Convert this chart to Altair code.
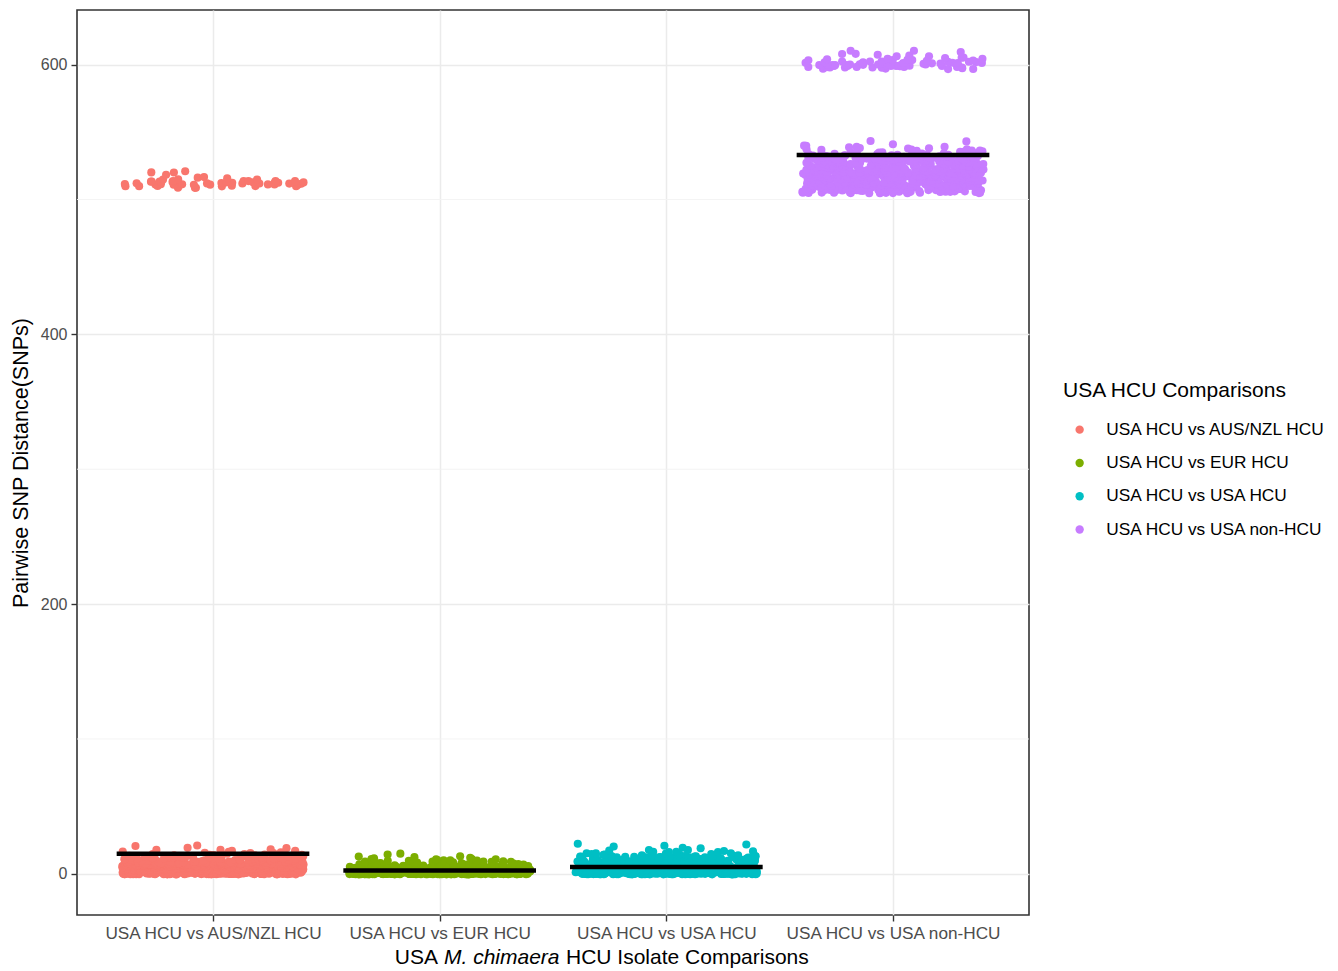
import json
import altair as alt
import pandas as pd

# ---------------- data ----------------
categories = [
    "USA HCU vs AUS/NZL HCU",
    "USA HCU vs EUR HCU",
    "USA HCU vs USA HCU",
    "USA HCU vs USA non-HCU",
]
colors = ["#F8766D", "#7CAE00", "#00BFC4", "#C77CFF"]

# SNP distance values and how many pairwise comparisons sit at each value
aus_distances = [0, 1, 2, 3, 4, 5, 6, 7, 8, 9, 10, 11, 12, 13, 14, 15, 16, 17, 18, 19, 21,
                 509, 510, 511, 512, 513, 514, 515, 516, 517, 518, 520, 521]
aus_pairs = [80, 80, 80, 80, 80, 80, 80, 75, 60, 30, 20, 15, 12, 10, 8, 6, 4, 3, 3, 2, 2,
             3, 8, 12, 10, 8, 5, 3, 2, 1, 1, 2, 1]

eur_distances = [0, 1, 2, 3, 4, 5, 6, 7, 8, 9, 10, 11, 12, 13, 14, 15]
eur_pairs = [120, 110, 90, 70, 50, 40, 25, 15, 12, 8, 6, 4, 3, 2, 1, 1]

usa_distances = [0, 1, 2, 3, 4, 5, 6, 7, 8, 9, 10, 11, 12, 13, 14, 15, 16, 17, 18, 19, 20, 21, 22]
usa_pairs = [90, 85, 80, 70, 60, 55, 45, 40, 35, 30, 25, 20, 18, 15, 10, 6, 4, 3, 2, 2, 1, 1, 2]

nonhcu_distances = [505, 506, 507, 508, 509, 510, 511, 512, 513, 514, 515, 516, 517, 518, 519,
                    520, 521, 522, 523, 524, 525, 526, 527, 528, 529, 530, 531, 532, 533, 534,
                    535, 536, 537, 538, 539, 540, 541, 543,
                    597, 598, 599, 600, 601, 602, 603, 604, 605, 606, 607, 608, 609, 610]
nonhcu_pairs = [15, 20, 25, 25, 20, 20, 20, 20, 20, 25, 25, 25, 25, 25, 25,
                25, 20, 20, 20, 18, 18, 15, 15, 15, 15, 15, 12, 12, 10, 8,
                6, 5, 4, 3, 3, 2, 1, 2,
                5, 10, 12, 12, 10, 8, 5, 4, 3, 2, 2, 2, 1, 2]

group_means = [15, 2.5, 5, 533]

y_ticks = [0, 200, 400, 600]
y_minor = [100, 300, 500]

# ---------------- tables ----------------
rows = []
for idx, (d_list, n_list) in enumerate([
    (aus_distances, aus_pairs),
    (eur_distances, eur_pairs),
    (usa_distances, usa_pairs),
    (nonhcu_distances, nonhcu_pairs),
]):
    for d, n in zip(d_list, n_list):
        for _ in range(n):
            rows.append({"comparison": categories[idx], "pos": idx + 1, "distance": d})
df = pd.DataFrame(rows)

means_df = pd.DataFrame({
    "comparison": categories,
    "pos": [i + 1 for i in range(len(categories))],
    "mean": group_means,
})
means_df["lo"] = means_df["pos"] - 0.425
means_df["hi"] = means_df["pos"] + 0.425

minor_df = pd.DataFrame({"y": y_minor})

FONT = "Liberation Sans"
W, H = 952, 905

xscale = alt.Scale(domain=[0.4, 4.6], nice=False, zero=False)
yscale = alt.Scale(domain=[-30.5, 640.5], nice=False, zero=False)

label_expr = json.dumps(categories) + "[datum.value - 1]"

xaxis = alt.Axis(
    values=[1, 2, 3, 4], labelExpr=label_expr, title=None,
    grid=True, gridColor="#EBEBEB", gridWidth=1.5,
    domain=False, ticks=True, tickColor="#333333", tickSize=6, tickWidth=1.4,
    labelFont=FONT, labelFontSize=17.2, labelColor="#4D4D4D", labelPadding=3,
    labelLimit=0,
)
yaxis = alt.Axis(
    values=y_ticks, title="Pairwise SNP Distance(SNPs)",
    grid=True, gridColor="#EBEBEB", gridWidth=1.5,
    domain=False, ticks=True, tickColor="#333333", tickSize=6, tickWidth=1.4,
    labelFont=FONT, labelFontSize=16, labelColor="#4D4D4D", labelPadding=4,
    titleFont=FONT, titleFontSize=21.5, titleFontWeight="normal", titleColor="black",
    titlePadding=8, titleLimit=0,
)

minor = alt.Chart(minor_df).mark_rule(color="#F3F3F3", strokeWidth=0.9).encode(
    y=alt.Y("y:Q", scale=yscale, axis=yaxis)
)

points = alt.Chart(df).transform_window(
    rn="row_number()", groupby=["comparison"]
).transform_calculate(
    jx="datum.pos + 0.8 * ((abs(sin(datum.rn * 12.9898 + datum.pos * 78.233) * 43758.5453) % 1) - 0.5)",
    jy="datum.distance + 0.8 * ((abs(sin(datum.rn * 39.3468 + datum.pos * 11.135) * 24634.6345) % 1) - 0.5)",
).mark_circle(size=66, opacity=1).encode(
    x=alt.X("jx:Q", scale=xscale, axis=xaxis),
    y=alt.Y("jy:Q", scale=yscale, axis=yaxis),
    color=alt.Color(
        "comparison:N",
        scale=alt.Scale(domain=categories, range=colors),
        legend=alt.Legend(
            title="USA HCU Comparisons", orient="none", legendX=986, legendY=370,
            titleFont=FONT, titleFontSize=21, titleFontWeight="normal", titleColor="black",
            titlePadding=20, titleLimit=0,
            labelFont=FONT, labelFontSize=17.3, labelColor="black", labelLimit=0,
            symbolType="circle", symbolSize=70, symbolOffset=8, labelOffset=18,
            rowPadding=15.3, padding=0,
        ),
    ),
)

lines = alt.Chart(means_df).mark_rule(color="black", strokeWidth=4.5).encode(
    x=alt.X("lo:Q", scale=xscale, axis=xaxis),
    x2="hi:Q",
    y=alt.Y("mean:Q", scale=yscale, axis=yaxis),
)

title_y = 948
t1 = alt.Chart(pd.DataFrame({"t": ["USA"]})).mark_text(
    font=FONT, fontSize=21, align="right", baseline="middle", color="black"
).encode(text="t:N", x=alt.value(361), y=alt.value(title_y))
t2 = alt.Chart(pd.DataFrame({"t": ["M. chimaera"]})).mark_text(
    font=FONT, fontSize=21, fontStyle="italic", align="left", baseline="middle", color="black"
).encode(text="t:N", x=alt.value(367), y=alt.value(title_y))
t3 = alt.Chart(pd.DataFrame({"t": ["HCU Isolate Comparisons"]})).mark_text(
    font=FONT, fontSize=21, align="left", baseline="middle", color="black"
).encode(text="t:N", x=alt.value(489), y=alt.value(title_y))

chart = alt.layer(minor, points, lines, t1, t2, t3).properties(
    width=W, height=H,
    autosize=alt.AutoSizeParams(type="none"),
    padding={"left": 69, "top": 2, "right": 300, "bottom": 60},
    background="white",
).configure_view(
    stroke="#333333", strokeWidth=1.6
)

chart.save("out.html", embed_options={"renderer": "svg", "actions": False})
